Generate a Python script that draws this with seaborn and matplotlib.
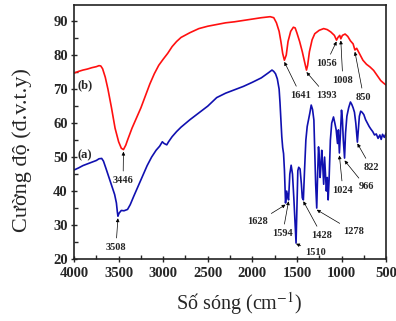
"""FTIR spectra of samples (a) and (b)."""
import numpy as np
import seaborn as sns
import matplotlib.pyplot as plt
from matplotlib.ticker import MultipleLocator

# spectrum (b), red
wn_b = [4000, 3950, 3900, 3850, 3800, 3750, 3720, 3700, 3680, 3650, 3620, 3580,
        3540, 3500, 3470, 3446, 3420, 3400, 3350, 3300, 3250, 3200, 3150, 3100,
        3050, 3000, 2950, 2900, 2850, 2800, 2700, 2600, 2500, 2400, 2300, 2200,
        2100, 2000, 1900, 1800, 1760, 1730, 1700, 1680, 1660, 1641, 1620, 1600,
        1570, 1540, 1520, 1500, 1470, 1440, 1410, 1393, 1380, 1360, 1330, 1300,
        1250, 1200, 1160, 1120, 1080, 1056, 1040, 1020, 1008, 990, 960, 930,
        900, 870, 850, 830, 800, 760, 720, 680, 640, 600, 560, 530, 500]
int_b = [74.7, 75.2, 75.6, 75.9, 76.3, 76.6, 76.9, 76.8, 76.0, 73.5, 70.0, 64.5,
         58.5, 54.5, 52.6, 52.2, 53.5, 55.0, 58.5, 61.5, 64.5, 68.0, 71.5, 74.5,
         77.0, 78.8, 80.5, 82.5, 84.0, 85.2, 86.6, 87.8, 88.5, 89.0, 89.5, 89.8,
         90.2, 90.6, 91.0, 91.3, 91.0, 89.5, 87.0, 84.0, 80.5, 78.5, 80.0, 84.0,
         87.0, 88.2, 88.0, 86.5, 84.0, 81.0, 77.5, 75.6, 77.0, 81.0, 84.5, 86.3,
         87.3, 87.8, 87.5, 86.8, 85.8, 84.4, 85.2, 85.8, 84.8, 85.8, 86.2, 85.5,
         84.2, 83.3, 81.5, 82.0, 80.5, 78.5, 77.3, 76.5, 75.5, 74.0, 72.5, 71.8, 71.2]

# spectrum (a), blue
wn_a = [4000, 3950, 3900, 3850, 3800, 3750, 3720, 3690, 3670, 3640, 3600, 3570,
        3545, 3525, 3515, 3508, 3495, 3470, 3440, 3400, 3370, 3330, 3280, 3230,
        3180, 3130, 3080, 3040, 3010, 2990, 2960, 2940, 2900, 2850, 2800, 2700,
        2600, 2500, 2400, 2300, 2200, 2100, 2000, 1900, 1820, 1780, 1760, 1740,
        1720, 1700, 1690, 1680, 1670, 1660, 1650, 1640, 1628, 1615, 1600, 1594,
        1580, 1565, 1550, 1535, 1520, 1510, 1500, 1490, 1480, 1465, 1450, 1440,
        1428, 1415, 1400, 1385, 1370, 1355, 1340, 1325, 1310, 1300, 1290, 1278,
        1268, 1258, 1250, 1240, 1232, 1222, 1212, 1200, 1190, 1180, 1170, 1160,
        1150, 1140, 1125, 1110, 1090, 1075, 1060, 1045, 1035, 1024, 1012, 1000,
        990, 980, 966, 955, 940, 920, 900, 885, 870, 855, 840, 830, 822, 812,
        800, 785, 770, 750, 730, 710, 690, 670, 650, 630, 610, 590, 570, 555,
        540, 520, 500]
int_a = [46.2, 46.8, 47.5, 48.0, 48.5, 49.0, 49.5, 49.6, 48.8, 46.5, 43.5, 41.0,
         39.0, 36.5, 34.0, 32.6, 33.5, 34.3, 34.2, 34.6, 36.0, 38.5, 41.5, 44.5,
         47.5, 50.0, 52.0, 53.2, 54.5, 54.0, 53.6, 54.5, 56.0, 57.5, 58.8, 61.0,
         63.0, 65.0, 67.5, 68.8, 69.8, 70.8, 72.0, 73.3, 74.8, 75.6, 75.2, 74.5,
         73.0, 70.0, 66.0, 61.0, 56.0, 52.8, 51.0, 46.0, 36.5, 40.0, 38.0, 37.4,
         45.0, 47.6, 45.0, 38.0, 30.0, 24.7, 35.0, 46.0, 47.0, 46.5, 42.0, 38.0,
         37.4, 46.0, 55.0, 59.0, 61.0, 63.0, 65.3, 64.0, 60.9, 52.0, 42.0, 35.0,
         45.0, 53.0, 50.0, 44.0, 47.0, 52.0, 48.0, 42.0, 50.0, 45.0, 40.0, 44.0,
         37.4, 43.0, 55.0, 60.0, 61.8, 60.0, 58.0, 54.0, 58.0, 51.2, 57.0, 63.8,
         61.0, 55.0, 49.7, 57.0, 62.0, 64.5, 66.2, 65.5, 64.5, 63.2, 60.0, 57.0,
         54.4, 58.0, 62.0, 63.5, 63.2, 62.5, 61.0, 60.0, 59.0, 58.2, 57.5, 56.5,
         56.8, 55.5, 56.5, 55.2, 56.7, 55.8, 57.0]

# peak labels: (text, peak wn, peak value, text wn, text value)
peaks = [("3446", 3446, 51.6, 3450, 43.2),
         ("3508", 3508, 32.0, 3530, 23.5),
         ("1641", 1641, 78.0, 1458, 68.2),
         ("1393", 1393, 75.0, 1170, 68.2),
         ("1056", 1056, 84.0, 1172, 77.6),
         ("1008", 1008, 84.3, 985, 72.6),
         ("850", 850, 81.0, 752, 67.6),
         ("822", 822, 54.0, 670, 47.0),
         ("966", 966, 49.0, 725, 41.2),
         ("1024", 1024, 50.5, 985, 40.3),
         ("1278", 1278, 34.5, 860, 28.0),
         ("1428", 1428, 37.0, 1221, 27.0),
         ("1594", 1594, 37.0, 1659, 27.6),
         ("1628", 1628, 36.0, 1941, 30.9),
         ("1510", 1510, 24.5, 1290, 22.0)]

sns.set_style("ticks")
plt.rcParams['font.family'] = ['Liberation Serif', 'DejaVu Serif']
plt.rcParams['mathtext.fontset'] = 'stix'

fig = plt.figure(figsize=(3.96, 3.21), dpi=100)
ax = fig.add_axes([0.187, 0.193, 0.788, 0.791])

sns.lineplot(x=wn_b, y=int_b, color='#ff1010', lw=1.2, ax=ax)
sns.lineplot(x=wn_a, y=int_a, color='#1010b0', lw=1.2, ax=ax)

for txt, px, py, tx, ty in peaks:
    ax.annotate(txt, xy=(px, py), xytext=(tx, ty), ha='center', va='center',
                fontsize=7.5, fontweight='bold',
                arrowprops=dict(arrowstyle='-|>', color='black', lw=0.5,
                                mutation_scale=5, shrinkA=1, shrinkB=0))

ax.text(3876, 71.2, '(b)', fontsize=9, fontweight='bold', ha='center', va='center')
ax.text(3876, 50.6, '(a)', fontsize=9, fontweight='bold', ha='center', va='center')

ax.set_xlim(4000, 500)
ax.set_ylim(20, 94.7)
ax.xaxis.set_major_locator(MultipleLocator(500))
ax.xaxis.set_minor_locator(MultipleLocator(250))
ax.yaxis.set_minor_locator(MultipleLocator(5))
ax.set_yticks(range(20, 91, 10))
ax.tick_params(which='major', direction='inout', length=5, width=1, labelsize=10.5)
ax.tick_params(axis='x', which='major', pad=3)
ax.tick_params(axis='y', which='major', pad=2)
ax.tick_params(which='minor', direction='in', length=3, width=1)
for lab in ax.get_xticklabels() + ax.get_yticklabels():
    lab.set_fontweight('bold')
for sp in ax.spines.values():
    sp.set_linewidth(1.2)
    sp.set_color('#222222')

ax.set_xlabel('Số sóng (cm$^{-1}$)', fontsize=14.5)
ax.set_ylabel('Cường độ (đ.v.t.y)', fontsize=16)
ax.xaxis.set_label_coords(0.53, -0.122)
ax.yaxis.set_label_coords(-0.135, 0.43)

fig.savefig('out.png', dpi=100)
